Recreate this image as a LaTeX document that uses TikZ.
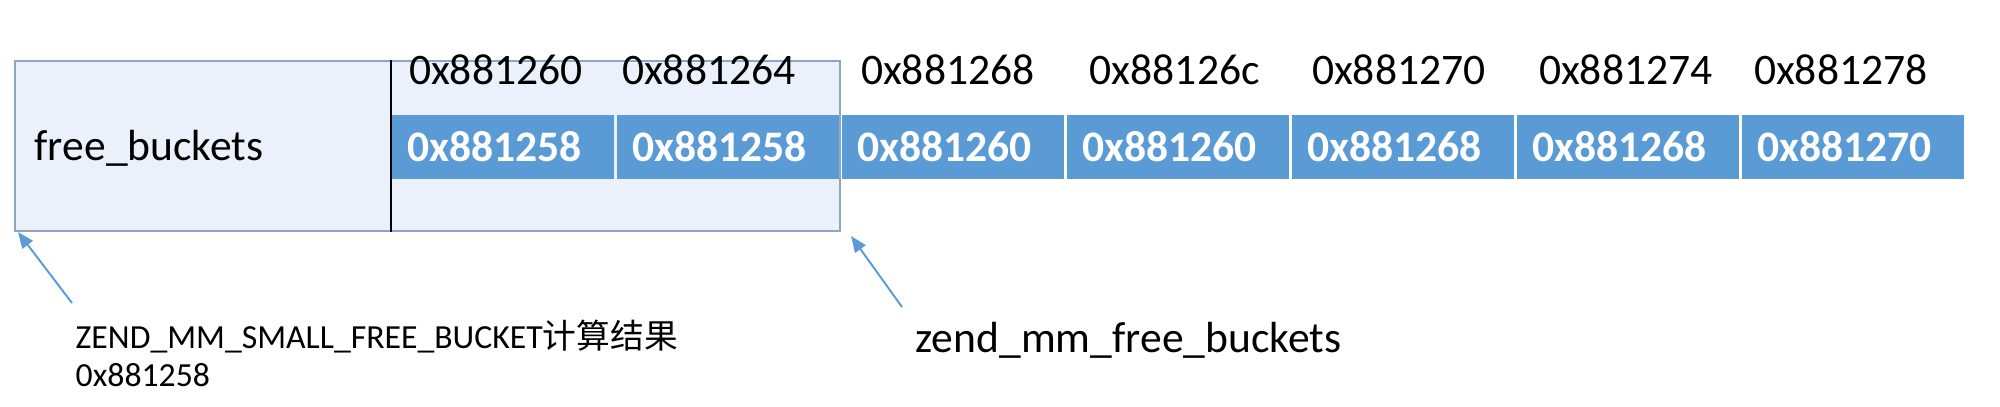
\documentclass[tikz,border=0pt]{standalone}
\usepackage{fontspec}
\setmainfont{Carlito}
\newfontfamily\cjk{Noto Sans CJK SC}
\usetikzlibrary{arrows.meta,positioning,calc}
\definecolor{cellblue}{HTML}{5B9BD5}
\definecolor{boxfill}{HTML}{EAF1FB}
\definecolor{boxline}{HTML}{8EA6C4}
\tikzset{
  bucketbox/.style={draw=boxline,fill=boxfill,line width=0.6pt,minimum width=8.25cm,minimum height=1.7cm,inner sep=0pt},
  cell/.style={fill=cellblue,text=white,font=\fontsize{12.4}{14}\selectfont\bfseries,minimum height=0.64cm,text width=1.915cm,inner xsep=0.15cm,inner ysep=0pt,outer sep=0pt,align=left},
  addr/.style={font=\fontsize{12.4}{14}\selectfont,inner sep=0pt},
  note/.style={font=\fontsize{9.6}{10.8}\selectfont,inner sep=0pt,align=left},
  pointer/.style={-{Triangle[length=1.6mm,width=1.3mm]},line width=0.55pt,color=cellblue},
}

\begin{document}
\begin{tikzpicture}
\useasboundingbox (0,0) rectangle (20,-4.07);
\node[bucketbox,anchor=north west] (fb) at (0.14,-0.60) {};
\node[cell,anchor=north west] (c1) at (3.92,-1.15) {0x881258};
\foreach \i/\val in {2/0x881258,3/0x881260,4/0x881260,5/0x881268,6/0x881268,7/0x881270}{
  \pgfmathtruncatemacro{\prev}{\i-1}
  \node[cell,right=0.035cm of c\prev] (c\i) {\val};
}
\foreach \i/\addr/\dx in {1/0x881260/-0.07,2/0x881264/-0.19,3/0x881268/-0.05,4/0x88126c/-0.03,5/0x881270/-0.04,6/0x881274/-0.02,7/0x881278/-0.12}
  \node[addr,above=0.29cm of c\i,xshift=\dx cm] (a\i) {\addr};
\draw[line width=0.4pt] ([xshift=-0.01cm]c1.west |- fb.north) -- ([xshift=-0.01cm]c1.west |- fb.south);
\node[addr,anchor=base west] (fbl) at (0.34,-1.60) {free\_buckets};
% pointers from the notes below
\node[note,anchor=base west] (lb1) at (0.75,-3.86) {ZEND\_MM\_SMALL\_FREE\_BUCKET{\cjk 计算结果}\\0x881258};
\node[addr,anchor=base west] (lb2) at (9.15,-3.52) {zend\_mm\_free\_buckets};
\coordinate (t1) at (0.72,-3.03);
\coordinate (t2) at (9.02,-3.07);
\draw[pointer] (t1) -- ([xshift=0.04cm]fb.south west);
\draw[pointer] (t2) -- ($(fb.south east)+(0.1,-0.04)$);
\end{tikzpicture}
\end{document}
